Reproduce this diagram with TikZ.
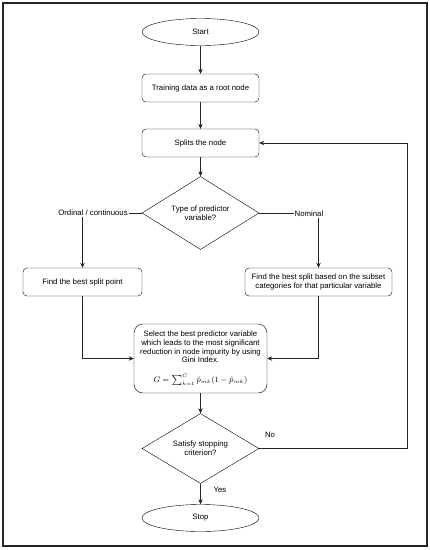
\documentclass[tikz,border=0pt]{standalone}
\usepackage{fontspec}
\setmainfont{Liberation Sans}
\usetikzlibrary{shapes.geometric,arrows.meta}
\begin{document}
\begin{tikzpicture}[x=1pt,y=-1pt,
  every node/.style={font=\fontsize{7.8}{9.2}\selectfont},
  proc/.style={draw, rounded corners=4pt, minimum width=117pt, minimum height=28pt, inner sep=2pt, align=center},
  bigproc/.style={draw, rounded corners=9pt, minimum width=133pt, minimum height=69pt, inner sep=1pt, align=center, font=\fontsize{7.8}{8.6}\selectfont},
  term/.style={draw, ellipse, minimum width=117pt, minimum height=27pt, inner sep=0pt},
  decide/.style={draw, diamond, minimum width=117pt, minimum height=56pt, inner sep=0pt, align=center},
  conn/.style={line width=0.55pt, draw=black!85},
  arr/.style={conn, -{Stealth[length=5pt,width=4.5pt]}},
  lbl/.style={fill=white, inner sep=1pt}]
\useasboundingbox (0,0) rectangle (430,550);
\draw[line width=1.6pt, draw=black!85] (3,3) rectangle (427,546);

\node[term] (start) at (200.5,32) {Start};
\node[proc] (train) at (200.5,88) {Training data as a root node};
\node[proc] (split) at (200.5,143) {Splits the node};
\node[decide] (type) at (200.5,213) {Type of predictor\\variable?};
\node[proc, minimum width=119pt] (point) at (82.5,282) {Find the best split point};
\node[proc, minimum width=147pt, inner sep=1pt] (subset) at (318.5,282) {Find the best split based on the subset\\categories for that particular variable};
\node[bigproc] (select) at (200.5,358.5) {Select the best predictor variable\\which leads to the most significant\\reduction in node impurity by using\\Gini Index.\\[11pt]$G=\sum\nolimits_{k=1}^{C}\hat{p}_{mk}(1-\hat{p}_{mk})$};
\node[decide] (stopq) at (200.5,448.5) {Satisfy stopping\\criterion?};
\node[term] (stop) at (200.5,518) {Stop};

\draw[arr] (start) -- (train);
\draw[arr] (train) -- (split);
\draw[arr] (split) -- (type);
\draw[arr] (type.west) -| (point.north);
\draw[arr] (type.east) -| (subset.north);
\node[lbl] (ordlbl) at (93,213) {Ordinal / continuous};
\node[lbl] (nomlbl) at (309,214) {Nominal};
\draw[arr] (point.south) |- (select.west);
\draw[arr] (subset.south) |- (select.east);
\draw[arr] (select) -- (stopq);
\draw[arr] (stopq.east) -- (407,448.5) |- (split.east);
\node (nolbl) at (270,435) {No};
\draw[arr] (stopq) -- (stop);
\node (yeslbl) at (220,490) {Yes};
\end{tikzpicture}
\end{document}
